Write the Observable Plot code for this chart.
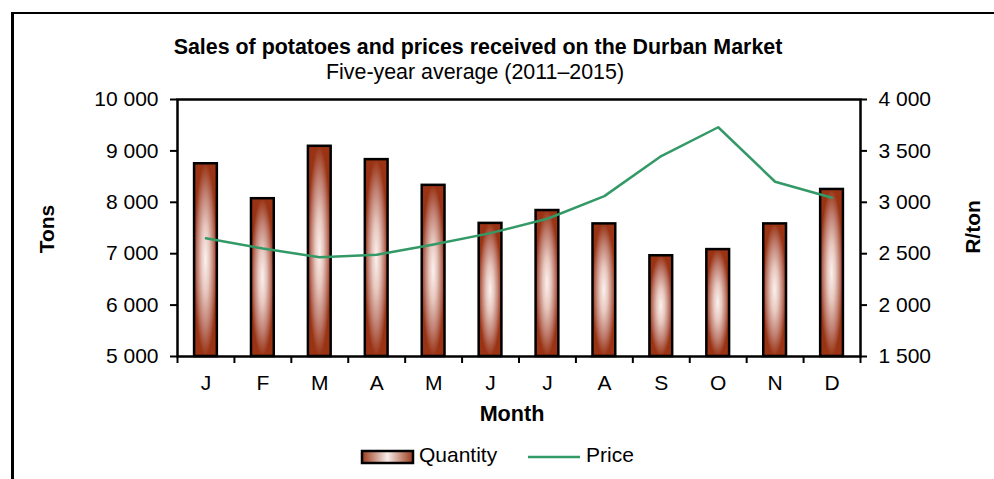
<!DOCTYPE html>
<html>
<head>
<meta charset="utf-8">
<script src="https://cdn.jsdelivr.net/npm/d3@7"></script>
<script src="https://cdn.jsdelivr.net/npm/@observablehq/plot@0.6"></script>
<style>
  html, body { margin: 0; padding: 0; background: white; }
  #wrap { position: relative; width: 994px; height: 479px; overflow: hidden; font-family: "Liberation Sans", Arial, sans-serif; color: black; }
  #wrap svg.chart { position: absolute; left: 0; top: 0; }
  .t { position: absolute; white-space: nowrap; line-height: 20px; }
  #border { position: absolute; left: 10.5px; top: 11.5px; width: 1000px; height: 500px; border-top: 2.5px solid black; border-left: 3px solid black; box-sizing: border-box; }
</style>
</head>
<body>
<div id="wrap">
  <div id="border"></div>
  <div class="t" id="title" style="left:478px; top:37px; transform:translateX(-50%); font-size:21.4px; font-weight:bold;">Sales of potatoes and prices received on the Durban Market</div>
  <div class="t" id="subtitle" style="left:475px; top:62px; transform:translateX(-50%); font-size:21.4px;">Five-year average (2011–2015)</div>
  <div class="t" id="ylab" style="left:47px; top:229px; transform:translate(-50%,-50%) rotate(-90deg); font-size:21px; font-weight:bold;">Tons</div>
  <div class="t" id="y2lab" style="left:973px; top:227px; transform:translate(-50%,-50%) rotate(-90deg); font-size:21px; font-weight:bold;">R/ton</div>
  <div class="t" id="xlab" style="left:512px; top:404px; transform:translateX(-50%); font-size:21.6px; font-weight:bold;">Month</div>
  <svg style="position:absolute; left:360px; top:449px;" width="56" height="17">
    <defs>
      <linearGradient id="legGrad" x1="0" y1="0" x2="1" y2="0">
        <stop offset="0" stop-color="#9a3a1c"/>
        <stop offset="0.5" stop-color="#f8ece8"/>
        <stop offset="1" stop-color="#9a3a1c"/>
      </linearGradient>
    </defs>
    <rect x="2" y="2" width="51" height="12" fill="url(#legGrad)" stroke="black" stroke-width="2.5"/>
  </svg>
  <div class="t" style="left:419px; top:445px; font-size:21px;">Quantity</div>
  <svg style="position:absolute; left:526px; top:450px;" width="56" height="14">
    <line x1="2" x2="54" y1="7" y2="7" stroke="#339966" stroke-width="2.5"/>
  </svg>
  <div class="t" style="left:586px; top:445px; font-size:21px;">Price</div>
</div>
<script>
const months = ["Jan","Feb","Mar","Apr","May","Jun","Jul","Aug","Sep","Oct","Nov","Dec"];
const monthLabels = ["J","F","M","A","M","J","J","A","S","O","N","D"];
const quantity = [8750, 8070, 9090, 8830, 8330, 7590, 7840, 7580, 6960, 7080, 7580, 8250];
const price = [2650, 2550, 2465, 2490, 2590, 2700, 2840, 3060, 3450, 3730, 3200, 3045];
const tonTicks = [5000, 6000, 7000, 8000, 9000, 10000];
const priceTicks = [1500, 2000, 2500, 3000, 3500, 4000];

const tonDomain = [5000, 10000];
const priceDomain = [1500, 4000];
const k = (tonDomain[1] - tonDomain[0]) / (priceDomain[1] - priceDomain[0]);
const priceToTons = p => tonDomain[0] + (p - priceDomain[0]) * k;
const tonsToPrice = t => priceDomain[0] + (t - tonDomain[0]) / k;

const loc = d3.formatLocale({decimal: ".", thousands: " ", grouping: [3], currency: ["", ""]});
const fmt = loc.format(",d");
const label = d3.scaleOrdinal(months, monthLabels);

const data = months.map((m, i) => ({month: m, tons: quantity[i], price: price[i]}));

const W = 994, H = 479;
const mL = 177, mR = 134, mT = 99, mB = 123;
const step = (W - mL - mR) / months.length;

const chart = Plot.plot({
  width: W, height: H,
  marginLeft: mL, marginRight: mR, marginTop: mT, marginBottom: mB,
  style: {fontFamily: "'Liberation Sans', Arial, sans-serif", fontSize: "21px", color: "black", background: "transparent"},
  x: {domain: months, paddingInner: 0.6, paddingOuter: 0.3, round: false},
  y: {domain: tonDomain},
  marks: [
    Plot.barY(data, {x: "month", y1: tonDomain[0], y2: "tons", fill: "url(#barGrad)", stroke: "black", strokeWidth: 2.5}),
    Plot.line(data, {x: "month", y: d => priceToTons(d.price), stroke: "#339966", strokeWidth: 2.5}),
    Plot.frame({stroke: "black", strokeWidth: 2.5}),
    Plot.axisY({anchor: "left", ticks: tonTicks, tickFormat: fmt, tickSize: 7, tickPadding: 12, fontSize: 21, strokeWidth: 2, label: null}),
    Plot.axisY({anchor: "right", ticks: priceTicks.map(priceToTons), tickFormat: t => fmt(Math.round(tonsToPrice(t))), tickSize: 6, tickPadding: 12, fontSize: 21, strokeWidth: 2, label: null}),
    Plot.axisX({ticks: months, tickFormat: () => "", tickSize: 7, dx: -step / 2, strokeWidth: 2, label: null}),
    Plot.axisX({ticks: [months[months.length - 1]], tickFormat: () => "", tickSize: 7, dx: step / 2, strokeWidth: 2, label: null}),
    Plot.axisX({ticks: months, tickFormat: m => label(m), tickSize: 0, tickPadding: 19, fontSize: 21, label: null})
  ]
});
chart.classList.add("chart");
d3.select(chart).insert("defs", ":first-child").html(`
  <radialGradient id="barGrad" cx="0.5" cy="0.5" r="0.5">
    <stop offset="0" stop-color="#fbf1ee"/>
    <stop offset="0.35" stop-color="#e7c7be"/>
    <stop offset="0.7" stop-color="#bf7e70"/>
    <stop offset="1" stop-color="#993314"/>
  </radialGradient>`);
document.getElementById("wrap").insertBefore(chart, document.getElementById("border"));
</script>
</body>
</html>
